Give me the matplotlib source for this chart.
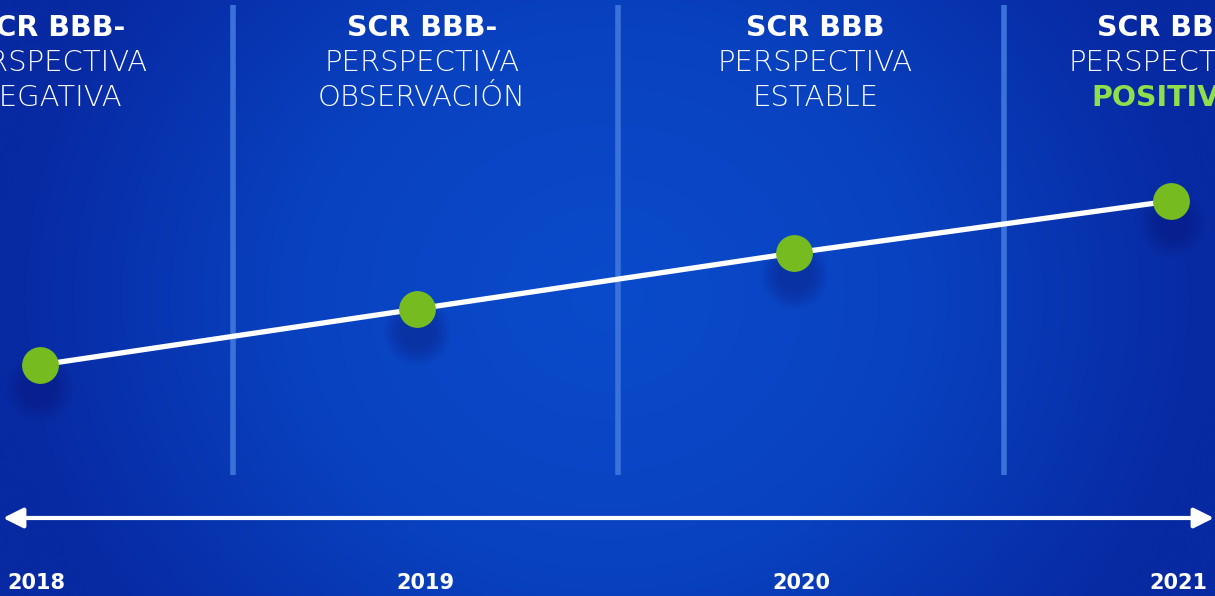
import numpy as np
import matplotlib

matplotlib.use("Agg")
import matplotlib.pyplot as plt
from matplotlib.colors import LinearSegmentedColormap

# data
years = [2018, 2019, 2020, 2021]
score = [1.0, 2.0, 3.0, 3.93]
rating = ["SCR BBB-", "SCR BBB-", "SCR BBB", "SCR BBB"]
outlook_1 = ["PERSPECTIVA", "PERSPECTIVA", "PERSPECTIVA", "PERSPECTIVA"]
outlook_2 = ["NEGATIVA", "OBSERVACIÓN", "ESTABLE", "POSITIVA"]
outlook_bold = [False, False, False, True]

W, H = 1215, 596
fig = plt.figure(figsize=(W / 100, H / 100), dpi=100)
ax = fig.add_axes([0, 0, 1, 1])

# x: year, y: score ; fit to pixel layout
x0, x1 = 2018 - 40.0 / 377.0, 2018 + (W - 40.0) / 377.0
ax.set_xlim(x0, x1)
ppy = 56.0  # px per score unit
ytop = 1.0 + 365 / ppy
ybot = 1.0 - (H - 365) / ppy
ax.set_ylim(ybot, ytop)
ax.axis("off")

def px_x(p):
    return x0 + p / W * (x1 - x0)

def px_y(p):
    return ytop - p / H * (ytop - ybot)

# background gradient
gx = np.linspace(-1, 1, 400)
gy = np.linspace(-1, 1, 200)
GX, GY = np.meshgrid(gx, gy)
r = np.sqrt((GX * 1.0) ** 2 + (GY * 0.55) ** 2)
bg = LinearSegmentedColormap.from_list("bg", ["#0a4bcb", "#0942c0", "#0729a2"])
ax.imshow(np.clip(r, 0, 1), cmap=bg, extent=(x0, x1, ybot, ytop),
          aspect="auto", zorder=0, interpolation="bicubic")

# column separators
for p in (233, 618, 1004):
    ax.plot([px_x(p), px_x(p)], [px_y(5), px_y(475)], color="#3b72d9", lw=4,
            solid_capstyle="butt", zorder=1)

# shadows
for k in range(12):
    s = 30 + k * 3.5
    ax.scatter(years, [v - 22 / ppy for v in score], s=(s * 0.72) ** 2,
               color="#0a1f7a", alpha=0.04, lw=0, zorder=2)

# line + points
ax.plot(years, score, color="white", lw=3.8, zorder=3)
ax.scatter(years, score, s=26.5 ** 2, color="#76bc21", lw=0, zorder=4)

# arrow axis
ax.annotate("", xy=(px_x(1214), px_y(518)), xytext=(px_x(3), px_y(518)),
            arrowprops=dict(arrowstyle="<|-|>,head_length=0.8,head_width=0.4",
                            color="white", lw=3,
                            mutation_scale=15, shrinkA=0, shrinkB=0),
            zorder=3)

bold_font = dict(family="DejaVu Sans", weight="bold")
light_font = dict(family="DejaVu Sans", weight=200)
head_x = [px_x(50), px_x(422), px_x(815), px_x(1166)]
year_x = [px_x(36), px_x(425), px_x(801), px_x(1178)]

for i, yr in enumerate(years):
    ax.text(head_x[i], px_y(28), rating[i], color="white", fontsize=20.5,
            ha="center", va="center", **bold_font)
    ax.text(head_x[i], px_y(63), outlook_1[i], color="white", fontsize=21,
            ha="center", va="center", **light_font)
    if outlook_bold[i]:
        ax.text(head_x[i], px_y(98), outlook_2[i], color="#8fde4c",
                fontsize=20.5, ha="center", va="center", **bold_font)
    else:
        ax.text(head_x[i], px_y(98), outlook_2[i], color="white",
                fontsize=21, ha="center", va="center", **light_font)
    ax.text(year_x[i], px_y(583), str(yr), color="white", fontsize=15,
            ha="center", va="center", **bold_font)

fig.savefig("out.png", dpi=100)
